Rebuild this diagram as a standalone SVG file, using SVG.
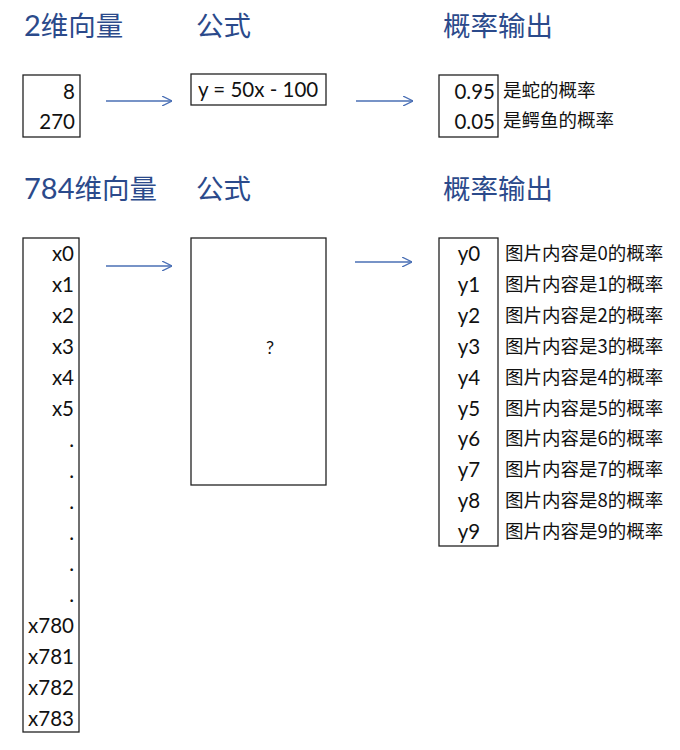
<svg xmlns="http://www.w3.org/2000/svg" width="680" height="750" viewBox="0 0 680 750">
<defs>
<style>
.title{font-family:"Noto Sans CJK SC","Lato",sans-serif;font-size:27.5px;fill:#2b4a8b}
.titlenum{font-family:"Lato","Noto Sans CJK SC",sans-serif;font-size:29px;fill:#2b4a8b}
.box{fill:#fff;stroke:#222;stroke-width:1.3}
.val{font-family:"Lato","Noto Sans CJK SC",sans-serif;font-size:20.5px;fill:#111}
.r{text-anchor:end}
.m{text-anchor:middle}
.lbl{font-family:"Noto Sans CJK SC",sans-serif;font-size:18.5px;fill:#111}
.arrow{stroke:#4a6fb5;stroke-width:1.3;fill:none;marker-end:url(#ah)}
</style>
<marker id="ah" viewBox="0 0 10 10" refX="10" refY="5" markerWidth="10" markerHeight="10" markerUnits="userSpaceOnUse" orient="auto">
<path d="M0,0 L10,5 L0,10" fill="none" stroke="#4a6fb5" stroke-width="1.3"/>
</marker>
</defs>
<rect width="680" height="750" fill="#fff"/>

<g id="titles">
<text class="title" x="24" y="36"><tspan class="titlenum">2</tspan>维向量</text>
<text class="title" x="196" y="36">公式</text>
<text class="title" x="443" y="36">概率输出</text>
<text class="title" x="24" y="199"><tspan class="titlenum">784</tspan>维向量</text>
<text class="title" x="196" y="199">公式</text>
<text class="title" x="443" y="199">概率输出</text>
</g>

<g id="input2">
<rect class="box" x="23" y="75" width="57" height="62"/>
<text class="val r" x="75" y="99">8</text>
<text class="val r" x="75" y="129">270</text>
</g>

<g id="formula1">
<rect class="box" x="191" y="74" width="135" height="31"/>
<text class="val" x="198" y="97">y = 50x - 100</text>
</g>

<g id="output2">
<rect class="box" x="439" y="75" width="59" height="62"/>
<text class="val r" x="495" y="99">0.95</text>
<text class="val r" x="495" y="129">0.05</text>
<text class="lbl" x="503" y="97">是蛇的概率</text>
<text class="lbl" x="503" y="127">是鳄鱼的概率</text>
</g>

<g id="input784">
<rect class="box" x="23" y="238" width="56" height="494"/>
<text class="val r" x="74" y="261">x0</text>
<text class="val r" x="74" y="292">x1</text>
<text class="val r" x="74" y="323">x2</text>
<text class="val r" x="74" y="354">x3</text>
<text class="val r" x="74" y="385">x4</text>
<text class="val r" x="74" y="416">x5</text>
<text class="val r" x="74" y="447">.</text>
<text class="val r" x="74" y="478">.</text>
<text class="val r" x="74" y="509">.</text>
<text class="val r" x="74" y="540">.</text>
<text class="val r" x="74" y="571">.</text>
<text class="val r" x="74" y="602">.</text>
<text class="val r" x="74" y="633">x780</text>
<text class="val r" x="74" y="664">x781</text>
<text class="val r" x="74" y="695">x782</text>
<text class="val r" x="74" y="726">x783</text>
</g>

<g id="formula2">
<rect class="box" x="191" y="238" width="135" height="247"/>
<text class="val m" x="270" y="354" style="font-size:18px">?</text>
</g>

<g id="output10">
<rect class="box" x="439" y="238" width="59" height="308"/>
<text class="val m" x="469" y="261">y0</text>
<text class="val m" x="469" y="292">y1</text>
<text class="val m" x="469" y="323">y2</text>
<text class="val m" x="469" y="354">y3</text>
<text class="val m" x="469" y="385">y4</text>
<text class="val m" x="469" y="416">y5</text>
<text class="val m" x="469" y="446">y6</text>
<text class="val m" x="469" y="477">y7</text>
<text class="val m" x="469" y="508">y8</text>
<text class="val m" x="469" y="539">y9</text>
<text class="lbl" x="505" y="260">图片内容是0的概率</text>
<text class="lbl" x="505" y="291">图片内容是1的概率</text>
<text class="lbl" x="505" y="322">图片内容是2的概率</text>
<text class="lbl" x="505" y="353">图片内容是3的概率</text>
<text class="lbl" x="505" y="384">图片内容是4的概率</text>
<text class="lbl" x="505" y="415">图片内容是5的概率</text>
<text class="lbl" x="505" y="445">图片内容是6的概率</text>
<text class="lbl" x="505" y="476">图片内容是7的概率</text>
<text class="lbl" x="505" y="507">图片内容是8的概率</text>
<text class="lbl" x="505" y="538">图片内容是9的概率</text>
</g>

<g id="connectors">
<line class="arrow" x1="106" y1="101" x2="172" y2="101"/>
<line class="arrow" x1="356" y1="101" x2="413" y2="101"/>
<line class="arrow" x1="106" y1="266" x2="172" y2="266"/>
<line class="arrow" x1="355" y1="262" x2="412" y2="262"/>
</g>
</svg>
